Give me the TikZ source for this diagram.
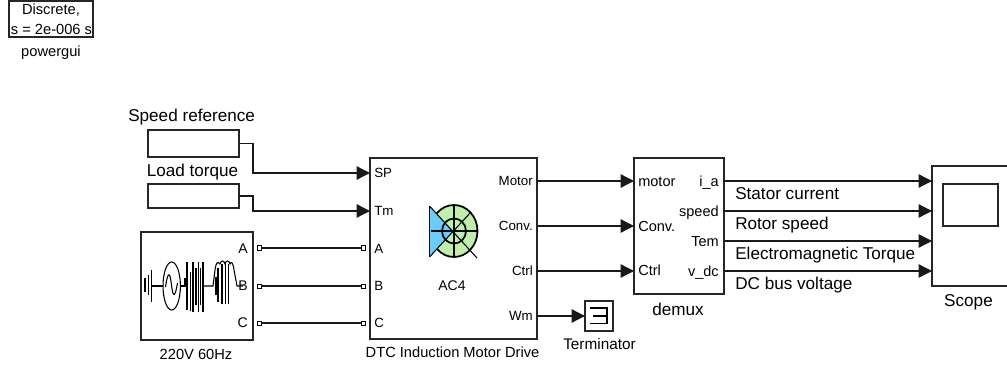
\documentclass[tikz,border=0pt]{standalone}
\usepackage{fontspec}
\setmainfont{Liberation Sans}
\usetikzlibrary{arrows.meta}
\newcommand{\fpx}[1]{\fontsize{#1}{#1}\selectfont}
\newcommand{\blk}[5]{\node[blockbox,minimum width={(#4-#2)*0.75pt},minimum height={(#5-#3)*0.75pt}] (#1) at ({(#2+#4)/2},{(#3+#5)/2}) {};}
\definecolor{motorgreen}{RGB}{190,240,170}
\definecolor{motorblue}{RGB}{105,205,255}
\tikzset{
  blockbox/.style={draw=black!85,line width=0.85pt,fill=white,inner sep=0pt,outer sep=0pt},
  wire/.style={draw=black!90,line width=1pt},
  sig/.style={wire,-{Triangle[length=10pt,width=10pt]}},
  portsq/.style={draw=black,line width=0.75pt,fill=white,inner sep=0pt,outer sep=0pt,minimum size=3pt},
  lbl/.style={inner sep=0pt,yshift=-1.4pt},
  bigtxt/.style={lbl,font=\fpx{12.85pt}},
  midtxt/.style={lbl,font=\fpx{11pt}},
  trmtxt/.style={lbl,font=\fpx{11.5pt}},
  porttxt/.style={lbl,font=\fpx{10pt}},
  srctxt/.style={lbl,font=\fpx{10.5pt}},
  dmxtxt/.style={lbl,font=\fpx{10.9pt}},
  icon/.style={draw=black,line width=0.8pt},
  iconb/.style={draw=black,line width=1.3pt}
}
\begin{document}
\begin{tikzpicture}[x=0.75pt,y=-0.75pt]
\useasboundingbox (0,0) rectangle (1007,367);
% blocks
\blk{pg}{9}{1}{93}{37}
\blk{spd}{148}{130}{239}{157}
\blk{lod}{148}{184}{239}{208}
\blk{src}{141}{232}{253}{340}
\blk{dtc}{370}{158}{537}{339}
\blk{dmx}{634}{158}{724}{294}
\blk{trm}{585}{301}{613}{331}
\blk{scp}{932}{166}{1015}{286}
\blk{scr}{943}{184}{998}{226}
% powergui text
\node[midtxt] (t1) at (51,8) {Discrete,};
\node[midtxt] (t2) at (51.5,28) {s = 2e-006 s};
\node[midtxt] (t3) at (51,50.5) {powergui};
% free labels
\node[bigtxt,anchor=mid west] (l1) at (128,116) {Speed reference};
\node[bigtxt] (l2) at (192.5,170) {Load torque};
\node[midtxt] (l3) at (196,353) {220V 60Hz};
\node[midtxt] (l4) at (452.5,350) {DTC Induction Motor Drive};
\node[srctxt] (l5) at (452,284) {AC4};
\node[bigtxt] (l6) at (678,308) {demux};
\node[trmtxt] (l7) at (599.5,342) {Terminator};
\node[bigtxt] (l8) at (968.5,300) {Scope};
% source ports
\node[srctxt,anchor=mid east] (sa) at (248,248) {A};
\node[srctxt,anchor=mid east] (sb) at (248,285) {B};
\node[srctxt,anchor=mid east] (sc) at (248,322) {C};
% drive ports
\node[porttxt,anchor=mid west] (dsp) at (374,172) {SP};
\node[porttxt,anchor=mid west] (dtm) at (374,210) {Tm};
\node[porttxt,anchor=mid west] (da) at (374,248) {A};
\node[porttxt,anchor=mid west] (db) at (374,285) {B};
\node[porttxt,anchor=mid west] (dc) at (374,322) {C};
\node[porttxt,anchor=mid east] (dm) at (533,180) {Motor};
\node[porttxt,anchor=mid east] (dcv) at (533,225) {Conv.};
\node[porttxt,anchor=mid east] (dct) at (533,270) {Ctrl};
\node[porttxt,anchor=mid east] (dw) at (533,315) {Wm};
% demux ports
\node[dmxtxt,anchor=mid west] (xm) at (638,181) {motor};
\node[dmxtxt,anchor=mid west] (xc) at (638,226) {Conv.};
\node[dmxtxt,anchor=mid west] (xt) at (638,270) {Ctrl};
\node[dmxtxt,anchor=mid east] (xi) at (719,181) {i\_a};
\node[dmxtxt,anchor=mid east] (xs) at (719,211) {speed};
\node[dmxtxt,anchor=mid east] (xe) at (719,241) {Tem};
\node[dmxtxt,anchor=mid east] (xv) at (719,271) {v\_dc};
% signal labels
\node[bigtxt,anchor=mid west] (n1) at (735,194) {Stator current};
\node[bigtxt,anchor=mid west] (n2) at (735,224) {Rotor speed};
\node[bigtxt,anchor=mid west] (n3) at (735,254) {Electromagnetic Torque};
\node[bigtxt,anchor=mid west] (n4) at (735,284) {DC bus voltage};
% port squares
\node[portsq] (pa1) at (259,248) {};
\node[portsq] (pb1) at (259,286) {};
\node[portsq] (pc1) at (259,323) {};
\node[portsq] (pa2) at (363,248) {};
\node[portsq] (pb2) at (363,286) {};
\node[portsq] (pc2) at (363,323) {};
% connectors
\draw[sig] (spd.east) -- (253,143.5) |- (370,173);
\draw[sig] (lod.east) -- (253,196) |- (370,211);
\draw[wire] (pa1) -- (pa2);
\draw[wire] (pb1) -- (pb2);
\draw[wire] (pc1) -- (pc2);
\draw[sig] (537,181) -- (634,181);
\draw[sig] (537,226) -- (634,226);
\draw[sig] (537,271) -- (634,271);
\draw[sig] (537,316) -- (trm.west);
\draw[sig] (724,181) -- (932,181);
\draw[sig] (724,211) -- (932,211);
\draw[sig] (724,241) -- (932,241);
\draw[sig] (724,271) -- (932,271);
% terminator glyph
\draw[icon] (590,308) -- (607,308) -- (607,323.5) -- (590,323.5);
\draw[icon] (593,316) -- (607,316);
% motor icon
\draw[iconb,fill=motorgreen] (454,231) ellipse [x radius=23.5,y radius=26];
\fill[motorblue] (429.5,206) -- (453.5,231) -- (429.5,257) -- cycle;
\draw[iconb] (454,231) ellipse [x radius=12,y radius=12.5];
\draw[icon] (454,205) -- (454,257);
\draw[icon] (431,231) -- (478,231);
\draw[iconb] (429.5,206) -- (429.5,257);
\draw[icon] (429.5,206) -- (477,258);
\draw[icon] (429.5,257) -- (471,212);
% source icon
\draw[iconb] (145,278) -- (145,292);
\draw[iconb] (148.5,274.5) -- (148.5,295);
\draw[iconb] (151.5,270) -- (151.5,301.5);
\draw[icon] (151.5,286) -- (163,286);
\draw[icon] (171.7,286) ellipse [x radius=8.7,y radius=24];
\draw[icon] (165.5,287) .. controls (168,270) and (170,272) .. (171.5,285) .. controls (173,298) and (175,298) .. (177.5,283);
\draw[icon] (180.4,286) -- (185,286) -- (185,278);
\draw[iconb] (187,262) -- (187,310);
\draw[iconb] (190.5,272) -- (190.5,311);
\draw[iconb] (193,262) -- (193,312);
\draw[iconb] (196,268) -- (196,305);
\draw[iconb] (198.5,262) -- (198.5,312);
\draw[iconb] (200.5,268) -- (200.5,305);
\draw[iconb] (203,262) -- (203,312);
\draw[icon] (203,286) -- (213,286) -- (215,270) .. controls (216,262) and (218,261) .. (220,264) .. controls (221,260) and (224,260) .. (225,264) .. controls (226,260) and (229,260) .. (230,264) .. controls (231,261) and (233,262) .. (234,270) -- (237,286) -- (243,286);
\draw[iconb] (218,268) -- (218,302);
\draw[iconb] (222,264) -- (222,304);
\draw[iconb] (225.5,264) -- (225.5,304);
\draw[iconb] (228.5,264) -- (228.5,304);
\draw[icon] (216,277) -- (216,295);
\end{tikzpicture}
\end{document}
